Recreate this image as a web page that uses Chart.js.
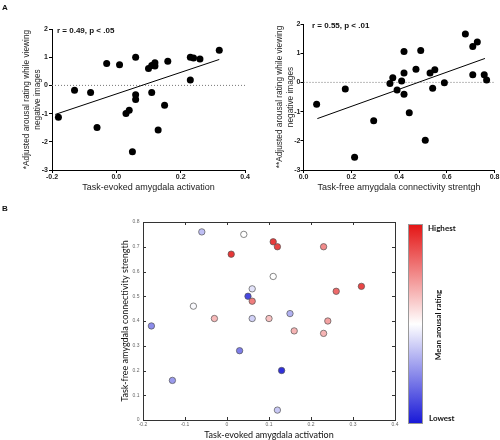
<!DOCTYPE html>
<html><head><meta charset="utf-8">
<script src="https://cdn.jsdelivr.net/npm/chart.js@4/dist/chart.umd.min.js"></script>
<style>
body{margin:0;background:#fff;width:500px;height:440px;position:relative;overflow:hidden;font-family:"Liberation Sans",Arial,sans-serif}
canvas{position:absolute}
.t{position:absolute;white-space:nowrap;line-height:1;color:#111}
</style></head><body>
<canvas id="a1" width="250" height="200" style="left:0;top:0;width:250px;height:200px"></canvas>
<canvas id="a2" width="250" height="200" style="left:250px;top:0;width:250px;height:200px"></canvas>
<canvas id="b" width="500" height="240" style="left:0;top:200px;width:500px;height:240px"></canvas>

<div class="t" style="left:2px;top:4px;font-weight:bold;font-size:8px">A</div>
<div class="t" style="left:2px;top:205px;font-weight:bold;font-size:8px">B</div>
<div class="t" id="r1" style="left:57px;top:31px;transform:translateY(-50%);font-weight:bold;font-size:8px"></div>
<div class="t" id="r2" style="left:312px;top:26px;transform:translateY(-50%);font-weight:bold;font-size:8px"></div>
<div id="cbar" style="position:absolute;left:408px;top:224px;width:13px;height:198px;border:1px solid #999"></div>
<div class="t" id="cbHi" style="left:428px;top:228px;transform:translateY(-50%);font-family:Lato,sans-serif;font-weight:bold;font-size:8px"></div>
<div class="t" id="cbLo" style="left:429px;top:418px;transform:translateY(-50%);font-family:Lato,sans-serif;font-weight:bold;font-size:8px"></div>
<div class="t" id="cbMid" style="left:438px;top:325px;transform:translate(-50%,-50%) rotate(-90deg);font-family:Lato,sans-serif;font-weight:bold;font-size:8px"></div>

<script>
// ---------- Panel A (left): task-evoked activation vs adjusted arousal ----------
const evokedA = [-0.18,-0.13,-0.08,-0.06,-0.03,0.01,0.06,0.03,0.04,0.06,0.06,0.05,0.10,0.11,0.12,0.12,0.11,0.13,0.15,0.16,0.23,0.24,0.26,0.23,0.32];
const arousalA1 = [-1.13,-0.17,-0.25,-1.49,0.78,0.73,1.00,-1.00,-0.88,-0.33,-0.50,-2.35,0.60,0.71,0.80,0.69,-0.25,-1.58,-0.70,0.86,1.00,0.97,0.94,0.19,1.25];
const fitA1X = [-0.19, 0.32];
const fitA1Y = [-1.03, 0.92];
const statA1 = "r = 0.49, p < .05";

// ---------- Panel A (right): task-free connectivity vs adjusted arousal ----------
const connA = [0.055,0.175,0.214,0.294,0.362,0.374,0.392,0.411,0.421,0.421,0.421,0.443,0.471,0.491,0.51,0.53,0.541,0.55,0.59,0.678,0.709,0.709,0.728,0.757,0.767];
const arousalA2 = [-0.75,-0.23,-2.56,-1.31,-0.04,0.16,-0.26,0.05,1.06,0.32,-0.41,-1.04,0.45,1.09,-1.98,0.32,-0.20,0.43,-0.01,1.66,1.23,0.26,1.38,0.26,0.08];
const fitA2X = [0.058, 0.76];
const fitA2Y = [-1.24, 0.82];
const statA2 = "r = 0.55, p < .01";

// ---------- Panel B: activation vs connectivity, coloured by mean arousal (0 = lowest, 1 = highest) ----------
const evokedB = [-0.06,0.04,0.11,0.12,0.01,0.11,0.06,0.05,0.06,-0.08,-0.03,0.06,0.10,0.15,0.16,-0.18,0.03,-0.13,0.13,0.12,0.23,0.26,0.32,0.24,0.23];
const connB   = [0.76,0.75,0.72,0.70,0.67,0.58,0.53,0.50,0.48,0.46,0.41,0.41,0.41,0.43,0.36,0.38,0.28,0.16,0.20,0.04,0.70,0.52,0.54,0.40,0.35];
const meanArousalB = [0.36,0.50,0.92,0.90,0.93,0.50,0.44,0.10,0.78,0.49,0.65,0.40,0.63,0.33,0.66,0.25,0.22,0.28,0.05,0.38,0.75,0.82,0.90,0.70,0.66];

const labelsA1 = {x:"Task-evoked amygdala activation", y:["*Adjusted arousal rating while viewing","negative images"]};
const labelsA2 = {x:"Task-free amygdala connectivity strentgh", y:["**Adjusted arousal rating while viewing","negative images"]};
const labelsB  = {x:"Task-evoked amygdala activation", y:"Task-free amygdala connectivity strength", cbar:["Highest","Mean arousal rating","Lowest"]};

document.getElementById('r1').textContent = statA1;
document.getElementById('r2').textContent = statA2;
document.getElementById('cbHi').textContent = labelsB.cbar[0];
document.getElementById('cbMid').textContent = labelsB.cbar[1];
document.getElementById('cbLo').textContent = labelsB.cbar[2];

const LOW=[25,25,215], MID=[255,255,255], HIGH=[228,22,22];
function cmap(v){
  const lo = v<0.5?LOW:MID, hi = v<0.5?MID:HIGH;
  const t = v<0.5? v/0.5 : (v-0.5)/0.5;
  const c = lo.map((a,i)=>Math.round(a+(hi[i]-a)*t));
  return `rgb(${c[0]},${c[1]},${c[2]})`;
}
document.getElementById('cbar').style.background =
  `linear-gradient(to bottom, rgb(${HIGH}), rgb(${MID}), rgb(${LOW}))`;

const ARIAL = "'Liberation Sans', Arial, sans-serif";
const pts = (xs, ys) => xs.map((x,i)=>({x, y: ys[i]}));

function panelA(id, xs, ys, fx, fy, xr, yr, labels, geo){
  new Chart(document.getElementById(id), {
    type:'scatter',
    data:{datasets:[
      {data:pts(xs,ys), backgroundColor:'#000', borderWidth:0, pointRadius:3.5, pointHoverRadius:3.5},
      {data:pts(fx,fy), showLine:true, borderColor:'#000', borderWidth:1, pointRadius:0},
      {data:pts([xr.min,xr.max],[0,0]), showLine:true, borderColor:'#777', borderWidth:1, borderDash:[1,2], pointRadius:0}
    ]},
    options:{
      responsive:false, animation:false, devicePixelRatio:1,
      layout:{padding:{left:0,right:geo.right,top:geo.top,bottom:0}},
      plugins:{legend:{display:false}, tooltip:{enabled:false}},
      scales:{
        x:{type:'linear', min:xr.min, max:xr.max,
           ticks:{stepSize:xr.step, autoSkip:false, maxRotation:0, padding:0, color:'#222',
                  font:{family:ARIAL,size:7,weight:'bold'}, callback:v=>v.toFixed(1)},
           grid:{drawOnChartArea:false, drawTicks:true, tickLength:3, color:'#000'},
           border:{display:true,color:'#000',width:1},
           title:{display:true, text:labels.x, color:'#222', font:{family:ARIAL,size:9,lineHeight:1.2}, padding:{top:0,bottom:geo.xTitlePad}},
           afterFit:s=>{s.height=geo.xh; s.paddingLeft=0; s.paddingRight=0;}},
        y:{type:'linear', min:yr.min, max:yr.max,
           ticks:{stepSize:1, autoSkip:false, padding:geo.yTickPad, color:'#222',
                  font:{family:ARIAL,size:7,weight:'bold'}},
           grid:{drawOnChartArea:false, drawTicks:true, tickLength:3, color:'#000'},
           border:{display:true,color:'#000',width:1},
           title:{display:true, text:labels.y, color:'#222', font:{family:ARIAL,size:8.3,lineHeight:1.33}, padding:{top:geo.yTitlePad,bottom:0}},
           afterFit:s=>{s.width=geo.yw; s.paddingTop=0; s.paddingBottom=0;}}
      }
    }
  });
}

panelA('a1', evokedA, arousalA1, fitA1X, fitA1Y, {min:-0.2,max:0.4,step:0.2}, {min:-3,max:2}, labelsA1,
       {right:5, top:29, xh:30, yw:52, xTitlePad:7.5, yTitlePad:21.5, yTickPad:1});
panelA('a2', connA, arousalA2, fitA2X, fitA2Y, {min:0,max:0.8,step:0.2}, {min:-3,max:2}, labelsA2,
       {right:5.5, top:24, xh:30, yw:53.5, xTitlePad:7.5, yTitlePad:24.5, yTickPad:0});

// inward ticks on all four sides + box, drawn from the chart's own scales
const boxTicks = {
  id:'boxTicks',
  afterDatasetsDraw(chart){
    const {ctx, chartArea:a, scales:{x,y}} = chart;
    ctx.save();
    ctx.strokeStyle='#333'; ctx.lineWidth=1;
    ctx.beginPath();
    x.ticks.forEach((t,i)=>{ const p=Math.round(x.getPixelForTick(i))+0.5;
      ctx.moveTo(p,a.bottom); ctx.lineTo(p,a.bottom-3); ctx.moveTo(p,a.top); ctx.lineTo(p,a.top+3); });
    y.ticks.forEach((t,i)=>{ const p=Math.round(y.getPixelForTick(i))+0.5;
      ctx.moveTo(a.left,p); ctx.lineTo(a.left+3,p); ctx.moveTo(a.right,p); ctx.lineTo(a.right-3,p); });
    ctx.stroke();
    ctx.strokeRect(Math.round(a.left)+0.5, Math.round(a.top)+0.5, Math.round(a.right-a.left), Math.round(a.bottom-a.top));
    ctx.restore();
  }
};
const fmt1 = v => String(Math.round(v*10)/10);
new Chart(document.getElementById('b'), {
  type:'scatter',
  data:{datasets:[{data:pts(evokedB,connB), backgroundColor:meanArousalB.map(cmap),
        borderColor:'#555', borderWidth:0.7, pointRadius:3.2, pointHoverRadius:3.2}]},
  options:{
    responsive:false, animation:false, devicePixelRatio:1,
    layout:{padding:{left:0,right:105,top:22,bottom:0}},
    plugins:{legend:{display:false}, tooltip:{enabled:false}},
    scales:{
      x:{type:'linear', min:-0.2, max:0.4,
         ticks:{stepSize:0.1, autoSkip:false, maxRotation:0, padding:2, color:'#666',
                font:{family:ARIAL,size:5}, callback:fmt1},
         grid:{display:false, drawTicks:false},
         border:{display:false},
         title:{display:true, text:labelsB.x, color:'#111', font:{family:"Lato, sans-serif",size:9,lineHeight:1}, padding:{top:0,bottom:0}},
         afterFit:s=>{s.height=20; s.paddingLeft=0; s.paddingRight=0;}},
      y:{type:'linear', min:0, max:0.8,
         ticks:{stepSize:0.1, autoSkip:false, padding:3.5, color:'#666',
                font:{family:ARIAL,size:5}, callback:fmt1},
         grid:{display:false, drawTicks:false},
         border:{display:false},
         title:{display:true, text:labelsB.y, color:'#111', font:{family:"Lato, sans-serif",size:9,lineHeight:1.2}, padding:{top:119.5,bottom:0}},
         afterFit:s=>{s.width=143; s.paddingTop=0; s.paddingBottom=0;}}
    }
  },
  plugins:[boxTicks]
});
</script>
</body></html>
